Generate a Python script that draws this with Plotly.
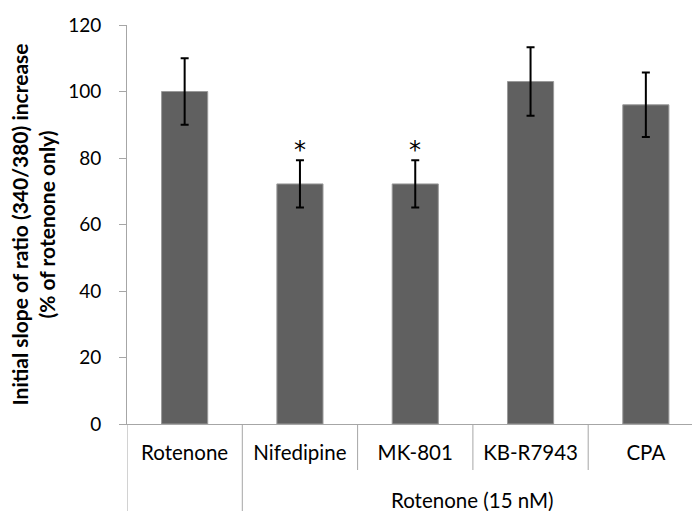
import plotly.graph_objects as go

categories = ["Rotenone", "Nifedipine", "MK-801", "KB-R7943", "CPA"]
values = [100, 72.2, 72.2, 103, 96]
errors = [10, 7.1, 7.1, 10.3, 9.7]
significant = [False, True, True, False, False]
group_label = "Rotenone (15 nM)"
y_ticks = [0, 20, 40, 60, 80, 100, 120]
y_title = "Initial slope of ratio (340/380) increase<br>(% of rotenone only)"

W, H = 692, 511
L, T, B = 127, 25, 87
plot_h = H - T - B
cat_w = 115.3
x_hi = -0.5 + (W - L) / cat_w

FONT = "Lato"
AX = "#a6a6a6"

xs = list(range(len(categories)))

fig = go.Figure()
fig.add_trace(go.Bar(
    x=xs, y=values, width=0.4,
    marker=dict(color="#606060", line=dict(color="#9a9a9a", width=1)),
    error_y=dict(type="data", array=errors, visible=True, color="black",
                 thickness=2, width=4),
    showlegend=False,
))

# asterisks
for i, (v, e, s) in enumerate(zip(values, errors, significant)):
    if s:
        fig.add_annotation(x=i, y=v + e, text="*", showarrow=False,
                           yanchor="bottom", yshift=-6,
                           font=dict(family="DejaVu Sans", size=24, color="#000000"))

# group label
fig.add_annotation(x=2.5, xref="x", y=-(500 - 424) / plot_h, yref="paper",
                   text=group_label, showarrow=False, yanchor="middle",
                   font=dict(family=FONT, size=20.5, color="black"))

# separators
seps = [-0.5, 0.5, 1.5, 2.5, 3.5]
for sx in seps:
    long = sx <= 0.5
    y1 = -(H - 424 + 5) / plot_h if long else -(470 - 424) / plot_h
    fig.add_shape(type="line", xref="x", yref="paper", x0=sx, x1=sx,
                  y0=0, y1=y1, line=dict(color=AX, width=1))

fig.update_layout(
    width=W, height=H,
    margin=dict(l=L, r=0, t=T, b=B),
    paper_bgcolor="white", plot_bgcolor="white",
    font=dict(family=FONT, color="black"),
    bargap=0.6,
    xaxis=dict(
        range=[-0.5, x_hi], tickmode="array", tickvals=xs, ticktext=categories,
        showline=True, linecolor=AX, linewidth=1, ticks="", showgrid=False,
        zeroline=False, tickfont=dict(family=FONT, size=20.5, color="black"),
        ticklabelstandoff=10,
    ),
    yaxis=dict(
        range=[0, 120], tickmode="array", tickvals=y_ticks,
        showline=True, linecolor=AX, linewidth=1, ticks="outside",
        ticklen=7, tickcolor=AX, showgrid=False, zeroline=False,
        tickfont=dict(family=FONT, size=19, color="black"),
        ticklabelstandoff=14,
        title=dict(text="<b>" + y_title + "</b>", standoff=6,
                   font=dict(family=FONT, size=21, color="black")),
    ),
)

fig.write_html("out.html")
